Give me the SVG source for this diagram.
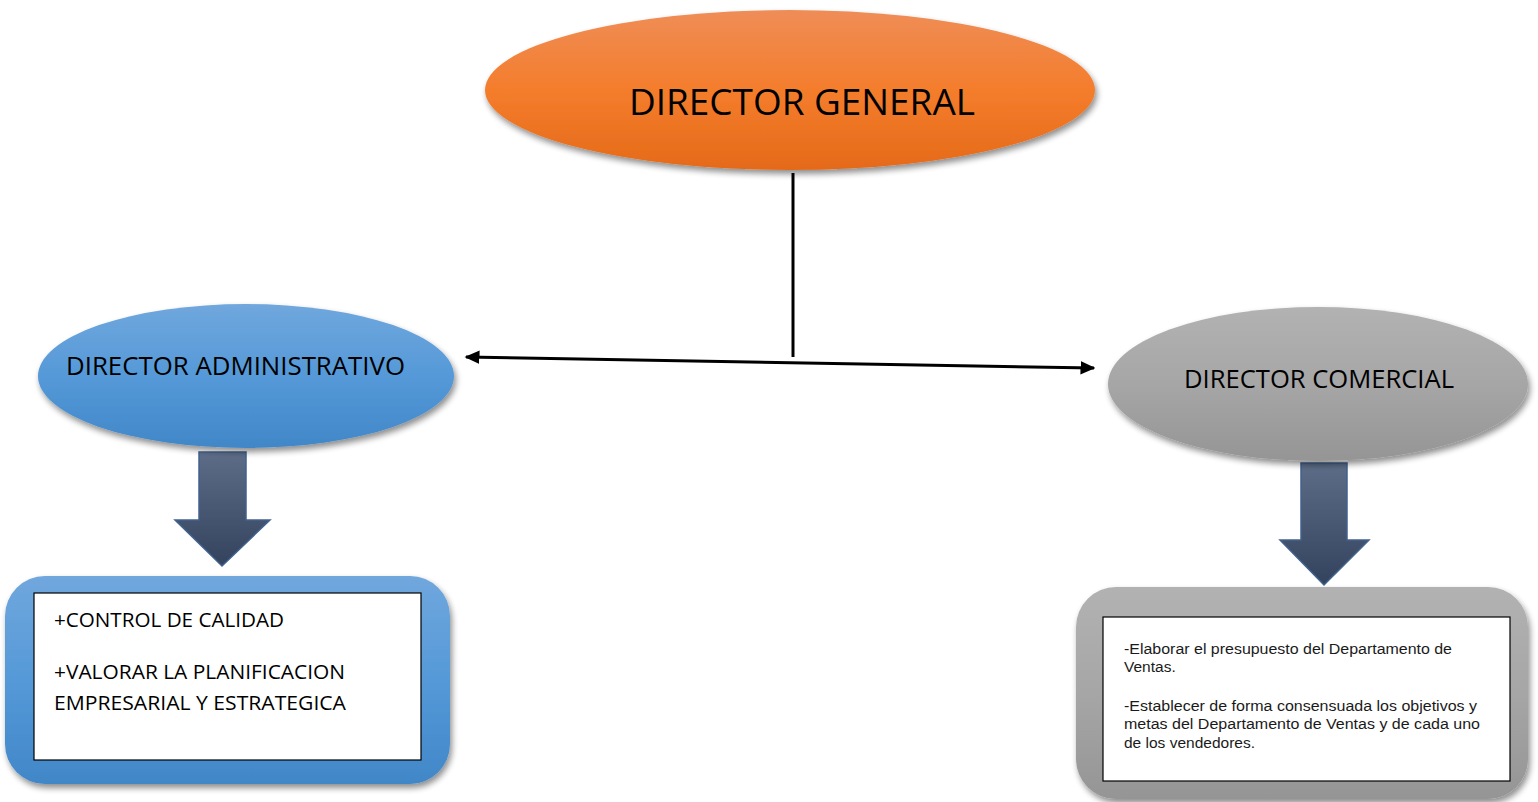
<svg xmlns="http://www.w3.org/2000/svg" width="1538" height="802" viewBox="0 0 1538 802">
<defs>
<linearGradient id="gOrange" x1="0" y1="0" x2="0" y2="1"><stop offset="0" stop-color="#ef8d57"/><stop offset="0.5" stop-color="#f47d2c"/><stop offset="1" stop-color="#e56a19"/></linearGradient>
<linearGradient id="gBlue" x1="0" y1="0" x2="0" y2="1"><stop offset="0" stop-color="#70a7dd"/><stop offset="0.5" stop-color="#5599d8"/><stop offset="1" stop-color="#4187c8"/></linearGradient>
<linearGradient id="gGray" x1="0" y1="0" x2="0" y2="1"><stop offset="0" stop-color="#b2b2b2"/><stop offset="0.5" stop-color="#a6a6a6"/><stop offset="1" stop-color="#959595"/></linearGradient>
<linearGradient id="gArrow" x1="0" y1="0" x2="0" y2="1"><stop offset="0" stop-color="#5d6d88"/><stop offset="1" stop-color="#33425d"/></linearGradient>
<filter id="sh" x="-10%" y="-10%" width="120%" height="130%"><feGaussianBlur in="SourceAlpha" stdDeviation="3"/><feOffset dx="2" dy="4" result="b"/><feComponentTransfer><feFuncA type="linear" slope="0.45"/></feComponentTransfer><feMerge><feMergeNode/><feMergeNode in="SourceGraphic"/></feMerge></filter>
<marker id="ah" viewBox="0 0 10 10" refX="9" refY="5" markerWidth="5" markerHeight="4.5" orient="auto-start-reverse" preserveAspectRatio="none"><path d="M0,0 L10,5 L0,10 Z" fill="#000"/></marker>
</defs>
<style>
.t{font-family:"Open Sans","Noto Sans","Liberation Sans",sans-serif;fill:#000}
.s{font-family:"Liberation Sans",Arial,sans-serif;font-size:15.5px;fill:#1a1a1a}
.bigarrow{fill:url(#gArrow);stroke:#41628f;stroke-width:1.5}
</style>
<rect width="1538" height="802" fill="#fff"/>
<g id="connectors">
<line x1="793" y1="173" x2="793" y2="357" stroke="#000" stroke-width="3"/>
<line x1="466" y1="357" x2="1094" y2="368" stroke="#000" stroke-width="3" marker-start="url(#ah)" marker-end="url(#ah)"/>
<path class="bigarrow" d="M199,452 H246 V520 H270 L222,566 L175,520 H199 Z"/>
<path class="bigarrow" d="M1301,463 H1347 V540 H1369 L1324,585 L1280,540 H1301 Z"/>
</g>
<g id="director-general">
<ellipse cx="790" cy="90" rx="305" ry="80" fill="url(#gOrange)" filter="url(#sh)"/>
<text class="t" x="802" y="115" font-size="36" text-anchor="middle" textLength="346" lengthAdjust="spacingAndGlyphs">DIRECTOR GENERAL</text>
</g>
<g id="director-administrativo">
<ellipse cx="246" cy="376" rx="208" ry="72" fill="url(#gBlue)" filter="url(#sh)"/>
<text class="t" x="66" y="375" font-size="25" textLength="339" lengthAdjust="spacingAndGlyphs">DIRECTOR ADMINISTRATIVO</text>
</g>
<g id="director-comercial">
<ellipse cx="1318" cy="384" rx="210" ry="77" fill="url(#gGray)" filter="url(#sh)"/>
<text class="t" x="1184" y="388" font-size="25" textLength="270" lengthAdjust="spacingAndGlyphs">DIRECTOR COMERCIAL</text>
</g>
<g id="funciones-administrativo">
<rect x="5" y="576" width="445" height="208" rx="40" fill="url(#gBlue)" filter="url(#sh)"/>
<rect x="34" y="593" width="387" height="167" fill="#fff" stroke="#000" stroke-width="1.2"/>
<text class="t" x="54" y="627" font-size="20" textLength="230" lengthAdjust="spacingAndGlyphs">+CONTROL DE CALIDAD</text>
<text class="t" x="54" y="679" font-size="20" textLength="291" lengthAdjust="spacingAndGlyphs">+VALORAR LA PLANIFICACION</text>
<text class="t" x="54" y="710" font-size="20" textLength="292" lengthAdjust="spacingAndGlyphs">EMPRESARIAL Y ESTRATEGICA</text>
</g>
<g id="funciones-comercial">
<rect x="1076" y="587" width="452" height="212" rx="40" fill="url(#gGray)" filter="url(#sh)"/>
<rect x="1103" y="617" width="407" height="164" fill="#fff" stroke="#000" stroke-width="1.2"/>
<text class="s" x="1124" y="654" textLength="328" lengthAdjust="spacingAndGlyphs">-Elaborar el presupuesto del Departamento de</text>
<text class="s" x="1124" y="672">Ventas.</text>
<text class="s" x="1124" y="711" textLength="353" lengthAdjust="spacingAndGlyphs">-Establecer de forma consensuada los objetivos y</text>
<text class="s" x="1124" y="729" textLength="356" lengthAdjust="spacingAndGlyphs">metas del Departamento de Ventas y de cada uno</text>
<text class="s" x="1124" y="748">de los vendedores.</text>
</g>
</svg>
